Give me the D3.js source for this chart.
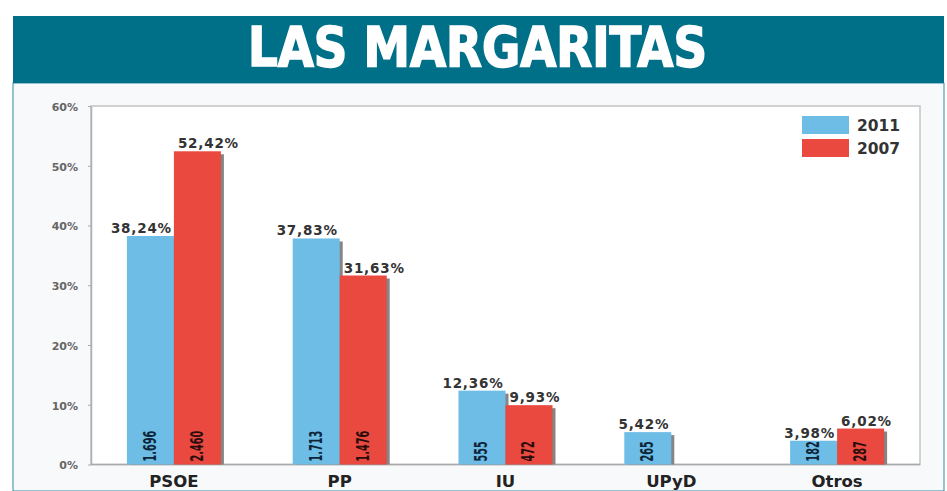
<!DOCTYPE html>
<html>
<head>
<meta charset="utf-8">
<script src="https://cdn.jsdelivr.net/npm/d3@7"></script>
<style>
  body { margin: 0; background: #ffffff; }
  svg { display: block; }
  .tick text { font-family: "DejaVu Sans", sans-serif; font-weight: bold; font-size: 11px; fill: #666; }
  .tick line { stroke: #aaa; }
</style>
</head>
<body>
<div id="chart"></div>
<script>

// data
const categories = ["PSOE", "PP", "IU", "UPyD", "Otros"];
const years = ["2011", "2007"];
const pct2011 = [38.24, 37.83, 12.36, 5.42, 3.98];
const pct2007 = [52.42, 31.63, 9.93, null, 6.02];
const votes2011 = [1696, 1713, 555, 265, 182];
const votes2007 = [2460, 1476, 472, null, 287];
const yTicks = [0, 10, 20, 30, 40, 50, 60];

const titleText = "LAS MARGARITAS";

// layout
let width = 947;
let height = 491;

let plot = { left: 91, right: 920, top: 106, bottom: 464.5 };

let colors = { "2011": "#6dbde6", "2007": "#e9493f" };

let es = d3.formatLocale({ decimal: ",", thousands: ".", grouping: [3], currency: ["", " €"] });
let fmtPct = es.format(".2f");
let fmtVotes = es.format(",");

let rows = categories.map(function(c, i) {
  return {
    cat: c,
    values: [
      { year: "2011", pct: pct2011[i], votes: votes2011[i] },
      { year: "2007", pct: pct2007[i], votes: votes2007[i] }
    ]
  };
});

let svg = d3.select("#chart")
            .append("svg")
            .attr("width", width)
            .attr("height", height);

// panel
svg.append("rect")
   .attr("x", 13)
   .attr("y", 83)
   .attr("width", 931)
   .attr("height", height - 83)
   .attr("fill", "#f8f9fb")
   .attr("stroke", "#2f8aa3")
   .attr("stroke-width", 1);

// banner
svg.append("rect")
   .attr("x", 13)
   .attr("y", 16)
   .attr("width", 931)
   .attr("height", 67)
   .attr("fill", "#006f88");

svg.append("text")
   .attr("x", 477.5)
   .attr("y", 66)
   .attr("text-anchor", "middle")
   .attr("textLength", 459)
   .attr("lengthAdjust", "spacingAndGlyphs")
   .style("font-family", "'DejaVu Sans Condensed', 'DejaVu Sans', sans-serif")
   .style("font-weight", "bold")
   .style("font-size", "55px")
   .style("fill", "#ffffff")
   .style("stroke", "#ffffff")
   .style("stroke-width", "1.6px")
   .text(titleText);

// plot box
svg.append("rect")
   .attr("x", plot.left)
   .attr("y", plot.top)
   .attr("width", plot.right - plot.left)
   .attr("height", plot.bottom - plot.top)
   .attr("fill", "#ffffff")
   .attr("stroke", "#c4c4c4")
   .attr("stroke-width", 1.5);

// scales
let x0 = d3.scaleBand()
           .domain(categories)
           .range([plot.left, plot.right])
           .paddingInner(0.433)
           .paddingOuter(0.2165);

let x1 = d3.scaleBand()
           .domain(years)
           .range([0, x0.bandwidth()]);

let y = d3.scaleLinear()
          .domain([0, 60])
          .range([plot.bottom, plot.top]);

let yAxis = d3.axisLeft(y)
              .tickValues(yTicks)
              .tickFormat(function(d) { return d + "%"; })
              .tickSize(3)
              .tickSizeOuter(0)
              .tickPadding(10);

let axisG = svg.append("g")
               .attr("transform", "translate(" + plot.left + ",0)")
               .call(yAxis);
axisG.select(".domain").attr("stroke", "#b0b0b0").attr("stroke-width", 1.5);
axisG.selectAll(".tick text").attr("dy", "0.4em");

// baseline
svg.append("line")
   .attr("x1", plot.left)
   .attr("x2", plot.right)
   .attr("y1", y(0))
   .attr("y2", y(0))
   .attr("stroke", "#a8a8a8")
   .attr("stroke-width", 1.5);

// bars
let groups = svg.selectAll("g.group")
                .data(rows)
                .enter()
                .append("g")
                .attr("class", "group")
                .attr("transform", function(d) { return "translate(" + x0(d.cat) + ",0)"; });

groups.each(function(row) {
  let g = d3.select(this);
  row.values.forEach(function(v) {
    if (v.pct == null) return;
    let bx = x1(v.year);
    let bw = x1.bandwidth();
    let by = y(v.pct);
    let bh = y(0) - by;

    // shadow
    g.append("rect")
     .attr("x", bx + 3)
     .attr("y", by + 3)
     .attr("width", bw)
     .attr("height", bh - 3)
     .attr("fill", "#858585");

    g.append("rect")
     .attr("x", bx)
     .attr("y", by)
     .attr("width", bw)
     .attr("height", bh)
     .attr("fill", colors[v.year]);
  });
});

// labels on top and inside bars
groups.each(function(row) {
  let g = d3.select(this);
  row.values.forEach(function(v) {
    if (v.pct == null) return;
    let bx = x1(v.year);
    let bw = x1.bandwidth();
    let by = y(v.pct);

    g.append("text")
     .attr("x", v.year == "2011" ? bx + bw - 2 : bx + 4)
     .attr("y", by - 3)
     .attr("text-anchor", v.year == "2011" ? "end" : "start")
     .style("font-family", "'DejaVu Sans', sans-serif")
     .style("font-weight", "bold")
     .style("font-size", "13.5px")
     .style("letter-spacing", "0.8px")
     .style("fill", "#333")
     .text(fmtPct(v.pct) + "%");

    // vertical vote count, squeezed along its length
    let cx = bx + bw / 2 - 1;
    let cy = y(0) - 3;
    g.append("text")
     .attr("transform", "translate(" + cx + "," + cy + ") rotate(-90) scale(0.62,1)")
     .attr("dy", "0.36em")
     .attr("text-anchor", "start")
     .style("font-family", "'DejaVu Sans Condensed', sans-serif")
     .style("font-weight", "bold")
     .style("font-size", "17.5px")
     .style("fill", v.year == "2011" ? "#0e2538" : "#2a0c0c")
     .text(fmtVotes(v.votes));
  });
});

// category labels
svg.selectAll("text.cat")
   .data(categories)
   .enter()
   .append("text")
   .attr("class", "cat")
   .attr("x", function(d) { return x0(d) + x0.bandwidth() / 2; })
   .attr("y", 487)
   .attr("text-anchor", "middle")
   .style("font-family", "'DejaVu Sans', sans-serif")
   .style("font-weight", "bold")
   .style("font-size", "16.5px")
   .style("fill", "#222")
   .text(function(d) { return d; });

// legend
let legend = svg.selectAll("g.legend")
                .data(years)
                .enter()
                .append("g")
                .attr("class", "legend")
                .attr("transform", function(d, i) { return "translate(802," + (116 + i * 23) + ")"; });

legend.append("rect")
      .attr("width", 47)
      .attr("height", 18)
      .attr("fill", function(d) { return colors[d]; });

legend.append("text")
      .attr("x", 55)
      .attr("y", 9)
      .attr("dy", "0.36em")
      .style("font-family", "'DejaVu Sans', sans-serif")
      .style("font-weight", "bold")
      .style("font-size", "15.5px")
      .style("fill", "#333")
      .text(function(d) { return d; });

</script>
</body>
</html>
